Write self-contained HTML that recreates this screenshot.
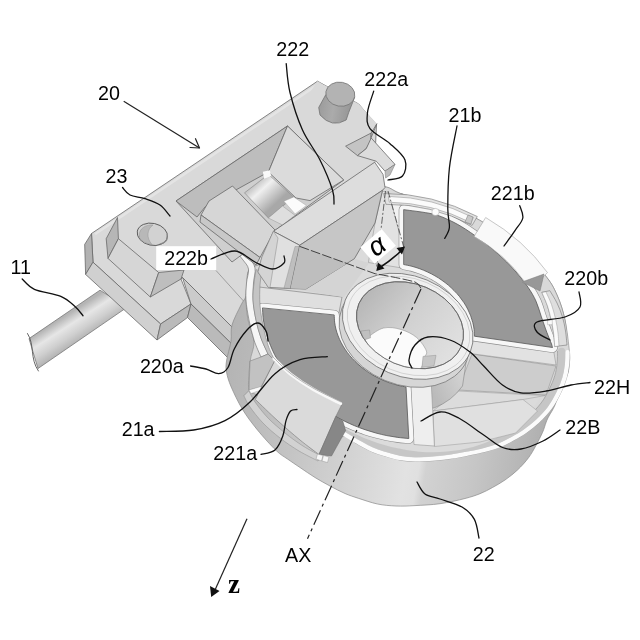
<!DOCTYPE html>
<html><head><meta charset="utf-8"><style>
html,body{margin:0;padding:0;background:#fff;}
svg{display:block;font-family:"Liberation Sans",sans-serif;filter:grayscale(1);}
</style></head><body>
<svg width="640" height="640" viewBox="0 0 640 640">
<defs>

<linearGradient id="gside" gradientUnits="userSpaceOnUse" x1="225" y1="370" x2="575" y2="430">
 <stop offset="0" stop-color="#b4b4b4"/><stop offset="0.06" stop-color="#b8b8b8"/><stop offset="0.22" stop-color="#c4c4c4"/><stop offset="0.40" stop-color="#d4d4d4"/><stop offset="0.55" stop-color="#e2e2e2"/><stop offset="0.585" stop-color="#e0e0e0"/><stop offset="0.605" stop-color="#d2d2d2"/><stop offset="0.74" stop-color="#c6c6c6"/><stop offset="0.87" stop-color="#b6b6b6"/><stop offset="0.96" stop-color="#a9a9a9"/>
</linearGradient>
<linearGradient id="grod" gradientUnits="userSpaceOnUse" x1="62" y1="318" x2="80" y2="346">
 <stop offset="0" stop-color="#b4b4b4"/><stop offset="0.3" stop-color="#e6e6e6"/><stop offset="0.6" stop-color="#cfcfcf"/><stop offset="1" stop-color="#a6a6a6"/>
</linearGradient>
<linearGradient id="grod2" gradientUnits="userSpaceOnUse" x1="262" y1="172" x2="284" y2="196">
 <stop offset="0" stop-color="#b0b0b0"/><stop offset="0.4" stop-color="#f0f0f0"/><stop offset="1" stop-color="#a8a8a8"/>
</linearGradient>
<linearGradient id="ghub" gradientUnits="userSpaceOnUse" x1="352" y1="310" x2="465" y2="345">
 <stop offset="0" stop-color="#b4b4b4"/><stop offset="0.45" stop-color="#d0d0d0"/><stop offset="1" stop-color="#e2e2e2"/>
</linearGradient>
<linearGradient id="gpin" gradientUnits="userSpaceOnUse" x1="319" y1="108" x2="350" y2="114">
 <stop offset="0" stop-color="#9c9c9c"/><stop offset="0.45" stop-color="#ababab"/><stop offset="1" stop-color="#969696"/>
</linearGradient>
<linearGradient id="ghubw" gradientUnits="userSpaceOnUse" x1="431" y1="390" x2="467" y2="372">
 <stop offset="0" stop-color="#bababa"/><stop offset="1" stop-color="#d6d6d6"/>
</linearGradient>

</defs>
<rect width="640" height="640" fill="#fff"/>
<polygon points="29.0,338.6 100.0,290.2 127.0,307.3 38.0,368.5" fill="url(#grod)" stroke="#777" stroke-width="0.8" stroke-linejoin="round" />
<path d="M27.5,333.5 C35,345 29.5,358 38.4,371" fill="none" stroke="#555" stroke-width="0.9" stroke-linejoin="round" stroke-linecap="round" />
<polygon points="91.5,233.5 317.5,81.2 358.7,104.0 376.5,124.7 374.7,162.2 300.0,262.0 246.0,341.0 182.5,277.5 181.0,279.0 191.0,304.0 160.6,324.0 93.0,262.2" fill="#d9d9d9" stroke="#686868" stroke-width="0.8" stroke-linejoin="round" />
<path d="M96,233.5 L318,84.5" fill="none" stroke="#e4e4e4" stroke-width="2.5" stroke-linejoin="round" stroke-linecap="round" />
<polygon points="84.7,244.4 91.5,233.5 93.0,262.2 85.6,274.4" fill="#b2b2b2" stroke="#686868" stroke-width="0.8" stroke-linejoin="round" />
<polygon points="93.0,262.2 160.6,324.0 157.0,340.0 85.6,274.4" fill="#d0d0d0" stroke="#686868" stroke-width="0.8" stroke-linejoin="round" />
<polygon points="160.6,324.0 191.0,304.0 187.5,317.5 157.0,340.0" fill="#bababa" stroke="#686868" stroke-width="0.8" stroke-linejoin="round" />
<polygon points="106.2,238.7 117.5,217.5 118.4,238.7 108.0,258.4" fill="#b6b6b6" stroke="#686868" stroke-width="0.8" stroke-linejoin="round" />
<polygon points="118.4,238.7 108.0,258.4 150.3,297.0 158.7,272.5" fill="#d6d6d6" stroke="#686868" stroke-width="0.8" stroke-linejoin="round" />
<polygon points="158.7,272.5 184.0,270.0 181.0,279.0 150.3,297.0" fill="#bebebe" stroke="#686868" stroke-width="0.8" stroke-linejoin="round" />
<ellipse cx="152.3" cy="234.3" rx="15.3" ry="11" transform="rotate(12 152.3 234.3)" fill="#d2d2d2" stroke="#5a5a5a" stroke-width="0.9"/>
<path d="M139,236 C139,228 146,224.5 153,225 C147,229 146,238 152,244.5 C145,243.5 140,241 139,236 Z" fill="#b8b8b8" stroke="#888" stroke-width="0.4" stroke-linejoin="round" stroke-linecap="round" />
<path d="M160,244 C165,243 167.5,240 167,237" fill="none" stroke="#888" stroke-width="1.2" stroke-linejoin="round" stroke-linecap="round" />
<line x1="216.0" y1="270.5" x2="248.0" y2="306.0" stroke="#777" stroke-width="0.6" />
<polygon points="182.5,277.5 246.0,341.0 240.0,352.0 191.0,304.0" fill="#cbcbcb" stroke="#686868" stroke-width="0.8" stroke-linejoin="round" />
<polygon points="191.0,304.0 240.0,352.0 228.0,358.0 187.5,317.5" fill="#bababa" stroke="#686868" stroke-width="0.8" stroke-linejoin="round" />
<path d="M402.0,194.0 C411.0,196.7 428.7,199.5 440.0,203.0 C451.3,206.5 458.3,208.8 470.0,215.0 C481.7,221.2 497.7,230.2 510.0,240.0 C522.3,249.8 536.2,264.8 544.0,274.0 C551.8,283.2 553.5,287.3 557.0,295.0 C560.5,302.7 563.2,311.0 565.0,320.0 C566.8,329.0 567.3,341.2 568.0,349.0 C568.7,356.8 569.3,362.2 569.0,367.0 C568.7,371.8 567.3,374.6 566.0,378.0 C564.7,381.4 562.8,383.0 561.0,387.5 C559.2,392.0 557.0,400.2 555.0,405.0 C553.0,409.8 550.5,413.2 549.0,416.0 C547.5,418.8 547.3,419.2 546.2,422.0 C545.1,424.8 544.2,428.7 542.5,432.5 C540.8,436.3 538.5,440.8 536.2,445.0 C533.9,449.2 531.8,453.3 528.7,457.5 C525.6,461.7 521.5,466.2 517.5,470.0 C513.5,473.8 509.2,477.1 505.0,480.0 C500.8,482.9 496.7,485.2 492.5,487.5 C488.3,489.8 484.6,491.9 480.0,493.7 C475.4,495.5 471.7,496.8 465.0,498.5 C458.3,500.2 448.3,502.5 440.0,503.7 C431.7,504.9 422.3,505.2 415.0,505.6 C407.7,506.0 402.2,506.3 396.0,506.0 C389.8,505.7 383.7,505.3 377.5,504.0 C371.3,502.7 364.1,500.1 358.7,498.4 C353.3,496.6 349.8,495.6 345.0,493.5 C340.2,491.4 335.0,488.7 330.0,486.0 C325.0,483.3 320.0,480.6 315.0,477.5 C310.0,474.4 304.6,470.6 300.0,467.5 C295.4,464.4 291.5,461.8 287.5,459.0 C283.5,456.2 281.2,455.4 276.2,450.6 C271.2,445.8 263.1,436.9 257.5,430.0 C251.9,423.1 246.9,416.6 242.5,409.4 C238.1,402.2 233.9,393.2 231.2,387.0 C228.5,380.8 227.3,376.3 226.5,372.0 C225.7,367.7 225.8,366.2 226.5,361.0 C227.2,355.8 230.1,347.0 231.0,341.0 C231.9,335.0 230.3,331.0 232.0,325.0 C233.7,319.0 238.7,309.8 241.0,305.0 C243.3,300.2 245.0,299.7 246.0,296.0 C247.0,292.3 246.3,287.5 247.0,283.0 C247.7,278.5 246.2,272.8 250.0,269.0 C253.8,265.2 263.0,264.8 270.0,260.0 C277.0,255.2 282.0,247.7 292.0,240.0 C302.0,232.3 317.3,222.7 330.0,214.0 C342.7,205.3 358.7,192.5 368.0,188.0 C377.3,183.5 380.3,186.0 386.0,187.0 C391.7,188.0 393.0,191.3 402.0,194.0 Z" fill="url(#gside)" stroke="#8a8a8a" stroke-width="0.7" stroke-linejoin="round" stroke-linecap="round" />
<path d="M249.0,391.0 C250.0,392.8 251.8,397.5 255.0,402.0 C258.2,406.5 263.0,412.8 268.0,418.0 C273.0,423.2 279.2,428.3 285.0,433.0 C290.8,437.7 297.0,442.2 303.0,446.0 C309.0,449.8 318.0,454.3 321.0,456.0 L318,461 L318.0,461.0 C314.8,459.3 305.3,454.8 299.0,451.0 C292.7,447.2 286.0,442.7 280.0,438.0 C274.0,433.3 268.0,428.2 263.0,423.0 C258.0,417.8 253.2,411.5 250.0,407.0 C246.8,402.5 245.0,397.8 244.0,396.0 Z" fill="#d2d2d2" stroke="#8a8a8a" stroke-width="0.5" stroke-linejoin="round" stroke-linecap="round" />
<path d="M402.0,194.0 C411.0,196.7 428.7,199.5 440.0,203.0 C451.3,206.5 458.3,208.8 470.0,215.0 C481.7,221.2 497.7,230.2 510.0,240.0 C522.3,249.8 536.2,264.8 544.0,274.0 C551.8,283.2 553.5,287.3 557.0,295.0 C560.5,302.7 562.9,310.5 565.0,320.0 C567.1,329.5 568.8,344.6 569.5,352.2 C570.2,359.8 569.5,360.9 569.0,365.3 C568.5,369.7 567.8,373.9 566.4,378.5 C565.0,383.1 563.0,388.2 560.6,393.2 C558.2,398.2 555.4,403.5 551.8,408.4 C548.2,413.2 543.4,418.3 539.2,422.3 C535.0,426.3 530.8,429.5 526.6,432.5 C522.4,435.5 518.1,437.8 513.9,440.1 C509.7,442.4 506.1,444.6 501.3,446.5 C496.5,448.4 490.5,450.2 485.1,451.7 C479.7,453.2 474.3,454.2 468.9,455.3 C463.5,456.4 458.2,457.5 452.6,458.4 C447.0,459.3 441.6,460.0 435.4,460.5 C429.1,461.0 421.0,461.6 415.1,461.5 C409.2,461.4 404.9,460.9 399.8,460.0 C394.7,459.1 389.2,457.3 384.5,455.9 C379.8,454.5 376.1,453.5 371.3,451.4 C366.6,449.3 360.6,445.9 356.0,443.3 C351.4,440.8 349.8,434.6 343.8,436.1 C337.8,437.6 327.3,452.2 320.0,452.5 C312.7,452.8 306.7,443.4 300.0,438.0 C293.3,432.6 287.0,427.0 280.0,420.0 C273.0,413.0 263.2,401.0 258.0,396.0 C252.8,391.0 250.3,395.7 249.0,390.0 C247.7,384.3 249.2,370.0 250.0,362.0 C250.8,354.0 254.3,349.0 254.0,342.0 C253.7,335.0 249.3,327.0 248.0,320.0 C246.7,313.0 246.2,306.2 246.0,300.0 C245.8,293.8 246.3,288.2 247.0,283.0 C247.7,277.8 246.2,272.8 250.0,269.0 C253.8,265.2 263.0,264.8 270.0,260.0 C277.0,255.2 282.0,247.7 292.0,240.0 C302.0,232.3 317.3,222.7 330.0,214.0 C342.7,205.3 358.7,192.5 368.0,188.0 C377.3,183.5 380.3,186.0 386.0,187.0 C391.7,188.0 393.0,191.3 402.0,194.0 Z" fill="#d9d9d9" stroke="#888" stroke-width="0.6" stroke-linejoin="round" stroke-linecap="round" />
<path d="M567.5,352.0 C567.4,354.2 567.5,360.7 567.0,365.0 C566.5,369.3 565.9,373.4 564.5,378.0 C563.1,382.6 561.1,387.6 558.7,392.5 C556.3,397.4 553.5,402.7 550.0,407.5 C546.5,412.3 541.7,417.2 537.5,421.2 C533.3,425.1 529.2,428.3 525.0,431.2 C520.8,434.1 516.7,436.4 512.5,438.7 C508.3,441.0 504.8,443.1 500.0,445.0 C495.2,446.9 489.3,448.6 484.0,450.0 C478.7,451.4 473.3,452.4 468.0,453.5 C462.7,454.6 457.5,455.7 452.0,456.5 C446.5,457.3 441.2,458.0 435.0,458.5 C428.8,459.0 420.8,459.6 415.0,459.5 C409.2,459.4 405.0,458.9 400.0,458.0 C395.0,457.1 389.7,455.4 385.0,454.0 C380.3,452.6 376.7,451.6 372.0,449.5 C367.3,447.4 361.5,444.0 357.0,441.5 C352.5,439.0 347.0,435.7 345.0,434.5" fill="none" stroke="#fbfbfb" stroke-width="4.2" stroke-linejoin="round" stroke-linecap="round" />
<path d="M561.5,351.5 C561.4,353.6 561.6,359.8 561.1,364.0 C560.6,368.2 560.0,372.1 558.7,376.5 C557.4,380.9 555.5,385.8 553.1,390.5 C550.8,395.2 548.0,400.3 544.6,404.9 C541.2,409.5 536.5,414.1 532.5,417.9 C528.5,421.6 524.3,424.6 520.3,427.4 C516.2,430.2 512.2,432.3 508.2,434.5 C504.2,436.7 500.7,438.6 496.1,440.4 C491.5,442.1 485.8,443.7 480.7,445.0 C475.6,446.3 470.4,447.1 465.3,448.1 C460.2,449.1 455.3,450.1 450.1,450.8 C444.9,451.6 439.8,452.2 433.9,452.6 C428.0,453.1 420.4,453.6 414.8,453.5 C409.2,453.4 405.3,452.9 400.6,452.0 C395.9,451.1 390.8,449.6 386.4,448.2 C382.0,446.8 378.5,445.9 374.1,443.9 C369.7,441.9 364.2,438.6 359.9,436.2 C355.6,433.8 350.4,430.7 348.5,429.6" fill="none" stroke="#c6c6c6" stroke-width="7.5" stroke-linejoin="round" stroke-linecap="round" />
<path d="M557.5,351.2 C557.4,353.2 557.6,359.3 557.1,363.4 C556.6,367.5 556.1,371.3 554.8,375.6 C553.5,379.9 551.6,384.5 549.3,389.1 C547.0,393.7 544.4,398.7 541.0,403.1 C537.6,407.6 533.1,412.2 529.1,415.8 C525.1,419.4 521.2,422.2 517.2,424.9 C513.2,427.5 509.3,429.6 505.4,431.7 C501.5,433.8 498.1,435.6 493.6,437.3 C489.1,439.0 483.5,440.4 478.5,441.6 C473.5,442.8 468.6,443.6 463.6,444.5 C458.7,445.4 453.9,446.3 448.8,447.0 C443.7,447.7 438.8,448.3 433.1,448.7 C427.4,449.1 420.1,449.6 414.7,449.5 C409.3,449.4 405.6,449.0 401.0,448.1 C396.4,447.2 391.6,445.6 387.3,444.3 C383.0,443.0 379.6,442.0 375.4,440.1 C371.1,438.2 365.9,435.0 361.8,432.7 C357.7,430.4 352.6,427.4 350.8,426.3" fill="none" stroke="#8c8c8c" stroke-width="0.6" stroke-linejoin="round" stroke-linecap="round" />
<ellipse cx="409.0" cy="331.0" rx="147.0" ry="116.1" transform="rotate(22.77 409.0 331.0)" fill="#dbdbdb" stroke="none"/>
<polygon points="472.0,354.0 556.0,366.0 546.0,395.0 458.0,390.0" fill="#cdcdcd" stroke="#8a8a8a" stroke-width="0.5" stroke-linejoin="round" />
<polygon points="458.0,391.0 545.0,395.6 523.0,399.5 433.0,411.0" fill="#dcdcdc" stroke="#999" stroke-width="0.5" stroke-linejoin="round" />
<polygon points="433.0,411.0 523.0,399.5 537.5,411.0 515.6,433.0 480.0,442.0 434.4,446.5" fill="#e0e0e0" stroke="#999" stroke-width="0.5" stroke-linejoin="round" />
<path d="M431,372 L467,356 L462.5,386 Q452,401 434,408 L431,408 Z" fill="url(#ghubw)" stroke="#777" stroke-width="0.5" stroke-linejoin="round" stroke-linecap="round" />
<polygon points="382.5,191.0 389.0,193.0 403.0,247.0 402.0,268.0 368.4,262.5 375.0,223.0" fill="#e2e2e2" stroke="#888" stroke-width="0.5" stroke-linejoin="round" />
<polygon points="389.0,193.0 395.0,196.0 404.0,212.0 403.0,247.0" fill="#f2f2f2" stroke="#999" stroke-width="0.4" stroke-linejoin="round" />
<polygon points="470.0,334.0 553.0,347.0 556.0,365.0 470.0,353.5" fill="#e2e2e2" stroke="#888" stroke-width="0.5" stroke-linejoin="round" />
<polygon points="409.4,378.0 431.0,378.0 434.4,446.0 414.0,444.5" fill="#eeeeee" stroke="#888" stroke-width="0.5" stroke-linejoin="round" />
<polygon points="255.0,286.5 342.0,297.0 338.0,318.0 258.0,312.0" fill="#dfdfdf" stroke="#777" stroke-width="0.6" stroke-linejoin="round" />
<polygon points="300.0,290.0 354.4,258.7 369.0,263.0 344.0,297.2" fill="#d4d4d4" stroke="none" stroke-width="0.8" stroke-linejoin="round" />
<path d="M404.0,209.7 C408.7,210.4 424.5,212.1 432.2,213.9 C439.9,215.7 444.4,217.9 450.0,220.5 C455.6,223.1 460.1,225.7 465.9,229.4 C471.7,233.2 478.8,238.2 485.0,243.0 C491.2,247.8 497.8,253.7 503.0,258.5 C508.2,263.3 511.8,267.2 516.0,272.0 C520.2,276.8 524.7,282.3 528.0,287.2 C531.3,292.1 533.8,296.2 536.0,301.2 C538.2,306.1 539.6,311.7 541.4,316.9 C543.2,322.1 545.2,328.0 546.9,332.5 C548.6,337.0 550.6,341.5 551.5,344.0 C552.4,346.5 552.3,346.9 552.5,347.5 L474.4,336.2 L474.4,336.2 C474.4,335.1 474.3,331.7 474.1,329.4 C473.8,327.2 473.4,324.9 472.8,322.6 C472.2,320.3 471.5,318.0 470.7,315.8 C469.8,313.5 468.8,311.3 467.7,309.1 C466.6,306.9 465.3,304.7 463.9,302.6 C462.5,300.5 461.0,298.4 459.4,296.4 C457.7,294.4 456.0,292.4 454.1,290.6 C452.3,288.7 450.3,286.9 448.3,285.1 C446.2,283.4 444.0,281.7 441.8,280.2 C439.6,278.6 437.3,277.1 434.9,275.8 C432.5,274.4 430.0,273.1 427.5,272.0 C425.0,270.8 422.5,269.7 419.9,268.8 C417.3,267.9 414.7,267.0 412.0,266.3 C409.4,265.6 405.3,264.9 404.0,264.6 Z" fill="#f6f6f6" stroke="#8c8c8c" stroke-width="10.6" stroke-linejoin="round" stroke-linecap="round" />
<path d="M404.0,209.7 C408.7,210.4 424.5,212.1 432.2,213.9 C439.9,215.7 444.4,217.9 450.0,220.5 C455.6,223.1 460.1,225.7 465.9,229.4 C471.7,233.2 478.8,238.2 485.0,243.0 C491.2,247.8 497.8,253.7 503.0,258.5 C508.2,263.3 511.8,267.2 516.0,272.0 C520.2,276.8 524.7,282.3 528.0,287.2 C531.3,292.1 533.8,296.2 536.0,301.2 C538.2,306.1 539.6,311.7 541.4,316.9 C543.2,322.1 545.2,328.0 546.9,332.5 C548.6,337.0 550.6,341.5 551.5,344.0 C552.4,346.5 552.3,346.9 552.5,347.5 L474.4,336.2 L474.4,336.2 C474.4,335.1 474.3,331.7 474.1,329.4 C473.8,327.2 473.4,324.9 472.8,322.6 C472.2,320.3 471.5,318.0 470.7,315.8 C469.8,313.5 468.8,311.3 467.7,309.1 C466.6,306.9 465.3,304.7 463.9,302.6 C462.5,300.5 461.0,298.4 459.4,296.4 C457.7,294.4 456.0,292.4 454.1,290.6 C452.3,288.7 450.3,286.9 448.3,285.1 C446.2,283.4 444.0,281.7 441.8,280.2 C439.6,278.6 437.3,277.1 434.9,275.8 C432.5,274.4 430.0,273.1 427.5,272.0 C425.0,270.8 422.5,269.7 419.9,268.8 C417.3,267.9 414.7,267.0 412.0,266.3 C409.4,265.6 405.3,264.9 404.0,264.6 Z" fill="#f6f6f6" stroke="#f7f7f7" stroke-width="9.4" stroke-linejoin="round" stroke-linecap="round" />
<path d="M404.0,209.7 C408.7,210.4 424.5,212.1 432.2,213.9 C439.9,215.7 444.4,217.9 450.0,220.5 C455.6,223.1 460.1,225.7 465.9,229.4 C471.7,233.2 478.8,238.2 485.0,243.0 C491.2,247.8 497.8,253.7 503.0,258.5 C508.2,263.3 511.8,267.2 516.0,272.0 C520.2,276.8 524.7,282.3 528.0,287.2 C531.3,292.1 533.8,296.2 536.0,301.2 C538.2,306.1 539.6,311.7 541.4,316.9 C543.2,322.1 545.2,328.0 546.9,332.5 C548.6,337.0 550.6,341.5 551.5,344.0 C552.4,346.5 552.3,346.9 552.5,347.5 L474.4,336.2 L474.4,336.2 C474.4,335.1 474.3,331.7 474.1,329.4 C473.8,327.2 473.4,324.9 472.8,322.6 C472.2,320.3 471.5,318.0 470.7,315.8 C469.8,313.5 468.8,311.3 467.7,309.1 C466.6,306.9 465.3,304.7 463.9,302.6 C462.5,300.5 461.0,298.4 459.4,296.4 C457.7,294.4 456.0,292.4 454.1,290.6 C452.3,288.7 450.3,286.9 448.3,285.1 C446.2,283.4 444.0,281.7 441.8,280.2 C439.6,278.6 437.3,277.1 434.9,275.8 C432.5,274.4 430.0,273.1 427.5,272.0 C425.0,270.8 422.5,269.7 419.9,268.8 C417.3,267.9 414.7,267.0 412.0,266.3 C409.4,265.6 405.3,264.9 404.0,264.6 Z" fill="#989898" stroke="#555" stroke-width="0.8" stroke-linejoin="round" stroke-linecap="round" />
<path d="M262.5,308.3 C262.6,309.8 262.8,314.5 263.1,317.6 C263.5,320.7 264.0,323.8 264.7,326.9 C265.3,330.0 266.2,333.2 267.1,336.3 C268.1,339.4 269.2,342.4 270.5,345.5 C271.7,348.6 273.1,351.6 274.6,354.6 C276.2,357.6 277.8,360.6 279.6,363.6 C281.4,366.5 283.4,369.4 285.4,372.2 C287.5,375.1 289.7,377.9 292.0,380.6 C294.3,383.3 296.7,386.0 299.2,388.5 C301.7,391.1 304.4,393.6 307.1,396.1 C309.9,398.5 312.7,400.9 315.6,403.1 C318.6,405.4 321.6,407.6 324.7,409.7 C327.8,411.8 331.0,413.8 334.2,415.6 C337.5,417.5 340.8,419.3 344.2,421.0 C347.6,422.7 351.0,424.2 354.5,425.7 C358.0,427.1 361.5,428.5 365.1,429.7 C368.7,430.9 372.3,432.0 375.9,433.0 C379.5,434.0 383.2,434.8 386.8,435.6 C390.5,436.3 394.2,436.9 397.8,437.4 C401.5,437.9 407.0,438.3 408.8,438.5 L406.0,386.9 L406.0,386.9 C404.6,386.7 400.6,386.0 397.9,385.3 C395.2,384.6 392.5,383.8 389.9,382.9 C387.3,382.0 384.7,381.0 382.1,379.8 C379.6,378.7 377.1,377.4 374.6,376.1 C372.2,374.7 369.8,373.3 367.6,371.7 C365.3,370.2 363.1,368.5 361.0,366.8 C358.9,365.1 356.9,363.2 355.0,361.3 C353.1,359.4 351.3,357.5 349.6,355.4 C348.0,353.4 346.4,351.3 345.0,349.2 C343.6,347.1 342.3,344.9 341.2,342.7 C340.0,340.4 339.0,338.2 338.1,335.9 C337.2,333.6 336.5,331.3 335.9,329.0 C335.4,326.7 334.9,324.4 334.6,322.1 C334.4,319.8 334.3,316.4 334.2,315.3 Z" fill="#f6f6f6" stroke="#8c8c8c" stroke-width="10.6" stroke-linejoin="round" stroke-linecap="round" />
<path d="M262.5,308.3 C262.6,309.8 262.8,314.5 263.1,317.6 C263.5,320.7 264.0,323.8 264.7,326.9 C265.3,330.0 266.2,333.2 267.1,336.3 C268.1,339.4 269.2,342.4 270.5,345.5 C271.7,348.6 273.1,351.6 274.6,354.6 C276.2,357.6 277.8,360.6 279.6,363.6 C281.4,366.5 283.4,369.4 285.4,372.2 C287.5,375.1 289.7,377.9 292.0,380.6 C294.3,383.3 296.7,386.0 299.2,388.5 C301.7,391.1 304.4,393.6 307.1,396.1 C309.9,398.5 312.7,400.9 315.6,403.1 C318.6,405.4 321.6,407.6 324.7,409.7 C327.8,411.8 331.0,413.8 334.2,415.6 C337.5,417.5 340.8,419.3 344.2,421.0 C347.6,422.7 351.0,424.2 354.5,425.7 C358.0,427.1 361.5,428.5 365.1,429.7 C368.7,430.9 372.3,432.0 375.9,433.0 C379.5,434.0 383.2,434.8 386.8,435.6 C390.5,436.3 394.2,436.9 397.8,437.4 C401.5,437.9 407.0,438.3 408.8,438.5 L406.0,386.9 L406.0,386.9 C404.6,386.7 400.6,386.0 397.9,385.3 C395.2,384.6 392.5,383.8 389.9,382.9 C387.3,382.0 384.7,381.0 382.1,379.8 C379.6,378.7 377.1,377.4 374.6,376.1 C372.2,374.7 369.8,373.3 367.6,371.7 C365.3,370.2 363.1,368.5 361.0,366.8 C358.9,365.1 356.9,363.2 355.0,361.3 C353.1,359.4 351.3,357.5 349.6,355.4 C348.0,353.4 346.4,351.3 345.0,349.2 C343.6,347.1 342.3,344.9 341.2,342.7 C340.0,340.4 339.0,338.2 338.1,335.9 C337.2,333.6 336.5,331.3 335.9,329.0 C335.4,326.7 334.9,324.4 334.6,322.1 C334.4,319.8 334.3,316.4 334.2,315.3 Z" fill="#f6f6f6" stroke="#f7f7f7" stroke-width="9.4" stroke-linejoin="round" stroke-linecap="round" />
<path d="M262.5,308.3 C262.6,309.8 262.8,314.5 263.1,317.6 C263.5,320.7 264.0,323.8 264.7,326.9 C265.3,330.0 266.2,333.2 267.1,336.3 C268.1,339.4 269.2,342.4 270.5,345.5 C271.7,348.6 273.1,351.6 274.6,354.6 C276.2,357.6 277.8,360.6 279.6,363.6 C281.4,366.5 283.4,369.4 285.4,372.2 C287.5,375.1 289.7,377.9 292.0,380.6 C294.3,383.3 296.7,386.0 299.2,388.5 C301.7,391.1 304.4,393.6 307.1,396.1 C309.9,398.5 312.7,400.9 315.6,403.1 C318.6,405.4 321.6,407.6 324.7,409.7 C327.8,411.8 331.0,413.8 334.2,415.6 C337.5,417.5 340.8,419.3 344.2,421.0 C347.6,422.7 351.0,424.2 354.5,425.7 C358.0,427.1 361.5,428.5 365.1,429.7 C368.7,430.9 372.3,432.0 375.9,433.0 C379.5,434.0 383.2,434.8 386.8,435.6 C390.5,436.3 394.2,436.9 397.8,437.4 C401.5,437.9 407.0,438.3 408.8,438.5 L406.0,386.9 L406.0,386.9 C404.6,386.7 400.6,386.0 397.9,385.3 C395.2,384.6 392.5,383.8 389.9,382.9 C387.3,382.0 384.7,381.0 382.1,379.8 C379.6,378.7 377.1,377.4 374.6,376.1 C372.2,374.7 369.8,373.3 367.6,371.7 C365.3,370.2 363.1,368.5 361.0,366.8 C358.9,365.1 356.9,363.2 355.0,361.3 C353.1,359.4 351.3,357.5 349.6,355.4 C348.0,353.4 346.4,351.3 345.0,349.2 C343.6,347.1 342.3,344.9 341.2,342.7 C340.0,340.4 339.0,338.2 338.1,335.9 C337.2,333.6 336.5,331.3 335.9,329.0 C335.4,326.7 334.9,324.4 334.6,322.1 C334.4,319.8 334.3,316.4 334.2,315.3 Z" fill="#989898" stroke="#555" stroke-width="0.8" stroke-linejoin="round" stroke-linecap="round" />
<path d="M384.1,193.5 A163.0,128.8 22.77 0 1 477.3,216.5 L472.1,225.4 A150.0,118.5 22.77 0 0 386.3,204.3 Z" fill="#e2e2e2" stroke="#777" stroke-width="0.6" stroke-linejoin="round" stroke-linecap="round" />
<path d="M388.7,196.4 A159.5,126.0 22.77 0 1 473.4,217.6 L470.7,222.5 A152.5,120.5 22.77 0 0 389.7,202.2 Z" fill="#fbfbfb" stroke="#999" stroke-width="0.6" stroke-linejoin="round" stroke-linecap="round" />
<circle cx="435.5" cy="212" r="3.6" fill="#fdfdfd" stroke="#aaa" stroke-width="0.5"/>
<polygon points="468.0,215.0 473.0,217.0 471.0,224.0 465.0,222.0" fill="#c8c8c8" stroke="#777" stroke-width="0.5" stroke-linejoin="round" />
<path d="M550.0,291.0 C551.2,293.0 554.9,298.7 557.0,303.0 C559.1,307.3 561.1,312.3 562.5,317.0 C563.9,321.7 564.8,326.3 565.5,331.0 C566.2,335.7 566.8,342.7 567.0,345.0 L554.7,346.5 L554.7,346.5 C554.5,344.4 554.2,338.2 553.7,334.0 C553.2,329.8 552.5,326.2 551.5,321.5 C550.5,316.8 549.1,310.8 547.5,306.0 C545.9,301.2 542.9,294.9 542.0,292.7 Z" fill="#dedede" stroke="#777" stroke-width="0.6" stroke-linejoin="round" stroke-linecap="round" />
<path d="M546.0,292.0 C546.9,294.1 549.9,299.9 551.5,304.5 C553.1,309.1 554.6,314.8 555.7,319.5 C556.8,324.2 557.5,328.6 558.0,333.0 C558.5,337.4 558.8,343.8 559.0,346.0 L554.7,346.5 L554.7,346.5 C554.5,344.4 554.2,338.2 553.7,334.0 C553.2,329.8 552.5,326.2 551.5,321.5 C550.5,316.8 549.1,310.8 547.5,306.0 C545.9,301.2 542.9,294.9 542.0,292.7 Z" fill="#fafafa" stroke="#999" stroke-width="0.5" stroke-linejoin="round" stroke-linecap="round" />
<polygon points="547.6,320.0 552.3,320.0 552.3,324.7 547.6,324.7" fill="#fafafa" stroke="#999" stroke-width="0.4" stroke-linejoin="round" />
<path d="M237.0,253.0 C238.0,254.2 241.1,257.3 243.0,260.0 C244.9,262.7 247.9,265.2 248.5,269.0 C249.1,272.8 246.9,277.8 246.5,283.0 C246.1,288.2 245.6,293.8 246.0,300.0 C246.4,306.2 247.7,313.3 249.0,320.0 C250.3,326.7 252.0,333.8 254.0,340.0 C256.0,346.2 259.8,354.2 261.0,357.0 L268,354 L268.0,354.0 C266.8,351.3 263.0,343.7 261.0,338.0 C259.0,332.3 257.3,326.3 256.0,320.0 C254.7,313.7 253.4,306.2 253.0,300.0 C252.6,293.8 253.2,288.3 253.5,283.0 C253.8,277.7 255.8,272.3 255.0,268.0 C254.2,263.7 251.0,260.0 249.0,257.0 C247.0,254.0 244.0,251.2 243.0,250.0 Z" fill="#f6f6f6" stroke="#666" stroke-width="0.6" stroke-linejoin="round" stroke-linecap="round" />
<path d="M256.0,270.0 C255.7,272.2 254.5,278.0 254.0,283.0 C253.5,288.0 252.7,293.8 253.0,300.0 C253.3,306.2 254.7,313.7 256.0,320.0 C257.3,326.3 259.0,332.3 261.0,338.0 C263.0,343.7 266.8,351.3 268.0,354.0 L275,361 L275.0,361.0 C273.8,358.3 270.0,351.0 268.0,345.0 C266.0,339.0 264.3,331.7 263.0,325.0 C261.7,318.3 260.5,311.7 260.0,305.0 C259.5,298.3 259.7,290.5 260.0,285.0 C260.3,279.5 261.7,274.2 262.0,272.0 Z" fill="#c4c4c4" stroke="#777" stroke-width="0.5" stroke-linejoin="round" stroke-linecap="round" />
<polygon points="250.0,361.0 261.0,357.0 268.0,354.0 275.0,361.0 261.0,387.0 249.0,390.0" fill="#c2c2c2" stroke="#777" stroke-width="0.5" stroke-linejoin="round" />
<polygon points="249.0,390.0 261.0,386.5 262.5,389.5 251.0,393.5" fill="#fafafa" stroke="#999" stroke-width="0.4" stroke-linejoin="round" />
<path d="M486.0,217.7 A175,138 22.77 0 1 547.5,272.6 L534,286 L522,282 L524.4,281.3 A139.0,109.8 22.77 0 0 474.4,236.6 Z" fill="#f9f9f9" stroke="#b0b0b0" stroke-width="0.7" stroke-linejoin="round" stroke-linecap="round" />
<polygon points="522.0,282.0 544.0,274.0 540.0,291.0" fill="#989898" stroke="#777" stroke-width="0.5" stroke-linejoin="round" />
<path d="M275.3,360.3 C278.1,362.9 285.4,370.9 292.0,376.0 C298.6,381.1 306.5,386.1 314.7,391.0 C322.9,395.9 336.9,402.9 341.4,405.3 L335.8,416.5 L319,454.5 L319.0,454.5 C315.8,452.1 306.8,445.6 300.0,440.0 C293.2,434.4 285.4,427.7 278.0,421.0 C270.6,414.3 259.3,403.2 255.6,399.7 Z" fill="#dadada" stroke="#777" stroke-width="0.6" stroke-linejoin="round" stroke-linecap="round" />
<path d="M274.0,358.5 C276.8,361.2 284.4,369.3 291.0,374.5 C297.6,379.7 305.2,384.7 313.5,389.5 C321.8,394.3 336.0,401.2 340.5,403.5" fill="none" stroke="#f8f8f8" stroke-width="3.4" stroke-linejoin="round" stroke-linecap="round" />
<path d="M273.0,357.0 C275.8,359.7 283.3,367.8 290.0,373.0 C296.7,378.2 304.5,383.2 313.0,388.0 C321.5,392.8 336.3,399.7 341.0,402.0" fill="none" stroke="#777" stroke-width="0.5" stroke-linejoin="round" stroke-linecap="round" />
<polygon points="335.8,416.5 342.8,421.0 345.6,430.6 331.5,456.0 319.0,454.5" fill="#878787" stroke="#666" stroke-width="0.5" stroke-linejoin="round" />
<polygon points="317.5,454.0 323.0,455.5 321.5,461.0 316.0,459.0" fill="#f6f6f6" stroke="#888" stroke-width="0.4" stroke-linejoin="round" />
<polygon points="323.5,455.5 329.0,457.0 327.5,462.5 322.0,461.0" fill="#f6f6f6" stroke="#888" stroke-width="0.4" stroke-linejoin="round" />
<ellipse cx="404.4" cy="334.3" rx="67.7" ry="50.1" transform="rotate(22.77 404.4 334.3)" fill="#d6d6d6" stroke="#666" stroke-width="0.6"/>
<ellipse cx="407.7" cy="326.3" rx="67.7" ry="50.1" transform="rotate(22.77 407.7 326.3)" fill="#f0f0f0" stroke="#666" stroke-width="0.7"/>
<ellipse cx="408.5" cy="325.9" rx="63.5" ry="47.0" transform="rotate(22.77 408.5 325.9)" fill="none" stroke="#bbb" stroke-width="0.5"/>
<clipPath id="hubclip"><ellipse cx="410" cy="325.2" rx="55.5" ry="41.1" transform="rotate(22.77 410 325.2)"/></clipPath>
<ellipse cx="410.0" cy="325.2" rx="55.5" ry="41.1" transform="rotate(22.77 410.0 325.2)" fill="url(#ghub)" stroke="#666" stroke-width="0.7"/>
<g clip-path="url(#hubclip)">
<path d="M366.0,342.0 C364.4,338.5 365.4,339.3 368.4,337.0 C371.3,334.7 378.3,329.2 383.7,328.0 C389.1,326.8 395.5,327.9 401.0,329.5 C406.5,331.1 412.4,333.9 416.6,337.5 C420.8,341.1 425.2,347.6 426.4,351.0 C427.6,354.4 424.9,355.2 424.0,358.0 C423.1,360.8 423.0,365.7 421.0,368.0 C419.0,370.3 416.5,372.0 412.0,372.0 C407.5,372.0 399.7,370.3 394.0,368.0 C388.3,365.7 382.7,362.3 378.0,358.0 C373.3,353.7 367.6,345.5 366.0,342.0 Z" fill="#fbfbfb" stroke="#888" stroke-width="0.5" stroke-linejoin="round" stroke-linecap="round" />
<polygon points="360.8,331.0 369.5,330.0 370.6,337.8 364.0,340.0" fill="#c0c0c0" stroke="#888" stroke-width="0.4" stroke-linejoin="round" />
<polygon points="423.0,356.4 436.0,355.3 434.0,366.0 422.0,367.3" fill="#c6c6c6" stroke="#888" stroke-width="0.4" stroke-linejoin="round" />
</g>
<ellipse cx="410.0" cy="325.2" rx="55.5" ry="41.1" transform="rotate(22.77 410.0 325.2)" fill="none" stroke="#666" stroke-width="0.7"/>
<polygon points="287.5,126.0 317.5,81.2 358.7,104.0 376.9,123.7 371.2,133.0 345.6,146.2 357.5,155.6 376.2,161.2 310.0,200.6 343.7,180.0" fill="#d9d9d9" stroke="none" stroke-width="0.8" stroke-linejoin="round" />
<polygon points="176.0,201.0 287.5,126.0 343.7,180.0 232.0,262.0" fill="#cfcfcf" stroke="#686868" stroke-width="0.8" stroke-linejoin="round" />
<polygon points="176.0,201.0 287.5,126.0 268.4,172.0 205.0,207.0 197.0,217.0" fill="#bdbdbd" stroke="#686868" stroke-width="0.8" stroke-linejoin="round" />
<polygon points="287.5,126.0 343.7,180.0 310.0,200.6 296.0,198.0 268.4,172.0" fill="#dbdbdb" stroke="#686868" stroke-width="0.8" stroke-linejoin="round" />
<polygon points="244.5,192.8 268.4,174.5 293.7,197.0 268.4,218.0" fill="url(#grod2)" stroke="#777" stroke-width="0.5" stroke-linejoin="round" />
<polygon points="262.8,171.7 269.8,170.3 271.2,176.0 264.2,178.7" fill="#fafafa" stroke="none" stroke-width="0.8" stroke-linejoin="round" />
<polygon points="283.9,201.2 293.7,197.0 306.4,205.5 295.1,213.9" fill="#fbfbfb" stroke="#999" stroke-width="0.4" stroke-linejoin="round" />
<polygon points="268.4,218.0 282.5,206.0 295.0,215.3 282.5,225.0" fill="#dedede" stroke="#888" stroke-width="0.4" stroke-linejoin="round" />
<polygon points="209.0,201.0 232.5,186.0 275.0,230.0 260.0,257.5 201.0,215.0" fill="#d6d6d6" stroke="#686868" stroke-width="0.8" stroke-linejoin="round" />
<polygon points="201.0,215.0 260.0,257.5 256.0,265.0 200.0,222.0" fill="#c8c8c8" stroke="#686868" stroke-width="0.8" stroke-linejoin="round" />
<polygon points="273.4,231.3 374.7,162.2 383.0,174.4 385.0,187.5 382.5,190.3 299.7,245.3" fill="#dddddd" stroke="#686868" stroke-width="0.8" stroke-linejoin="round" />
<polygon points="273.4,231.3 299.7,245.3 290.5,288.5 268.5,287.5 258.0,272.0 262.0,257.0" fill="#e0e0e0" stroke="#686868" stroke-width="0.8" stroke-linejoin="round" />
<polygon points="273.4,231.3 278.0,238.0 270.0,287.5 268.5,287.5 258.0,272.0 262.0,257.0" fill="#d4d4d4" stroke="#888" stroke-width="0.5" stroke-linejoin="round" />
<polygon points="295.0,246.5 301.5,246.5 290.5,288.5 284.0,288.0" fill="#bebebe" stroke="#888" stroke-width="0.4" stroke-linejoin="round" />
<polygon points="299.7,245.3 382.5,190.3 375.0,223.0 354.4,258.7 306.0,289.0 290.5,288.5" fill="#c6c6c6" stroke="#686868" stroke-width="0.8" stroke-linejoin="round" />
<polygon points="299.7,246.5 348.0,263.0 306.0,289.0 290.5,288.5" fill="#bebebe" stroke="none" stroke-width="0.8" stroke-linejoin="round" />
<polygon points="345.6,146.2 371.2,133.0 370.6,141.0 366.2,148.7 357.5,155.6" fill="#c4c4c4" stroke="#686868" stroke-width="0.8" stroke-linejoin="round" />
<polygon points="371.2,133.0 376.9,123.7 371.2,137.5" fill="#dadada" stroke="#686868" stroke-width="0.8" stroke-linejoin="round" />
<polygon points="357.5,155.6 366.2,148.7 371.2,138.0 395.0,164.4 385.0,171.2 376.2,161.2" fill="#dcdcdc" stroke="#686868" stroke-width="0.8" stroke-linejoin="round" />
<polygon points="385.0,171.2 395.0,164.4 390.0,175.0 385.6,178.0" fill="#bcbcbc" stroke="#777" stroke-width="0.5" stroke-linejoin="round" />
<path d="M325.6,95 L318.7,107.5 L320,115 Q332,128.5 346.2,120 L348.7,112.5 L354.6,97.5 Z" fill="url(#gpin)" stroke="#6a6a6a" stroke-width="0.7" stroke-linejoin="round" stroke-linecap="round" />
<ellipse cx="340.3" cy="94.2" rx="14.6" ry="12" transform="rotate(10 340.3 94.2)" fill="#b3b3b3" stroke="#777" stroke-width="0.8"/>
<line x1="385.5" y1="191.0" x2="376.5" y2="268.0" stroke="#444" stroke-width="0.8" stroke-dasharray="7 2 2 2"/>
<line x1="388.0" y1="191.0" x2="404.0" y2="248.0" stroke="#444" stroke-width="0.8" stroke-dasharray="7 2 2 2"/>
<g transform="translate(378.1,246.4) rotate(-40.5)"><rect x="-14" y="-11" width="28" height="22" fill="#fff"/></g>
<text opacity="0.99" transform="translate(375.5,257.5) rotate(-35)" font-size="27" font-style="italic" font-family="Liberation Sans">α</text>
<path d="M378.5,268.5 Q393,259 402.5,249.5" fill="none" stroke="#111" stroke-width="1.6" stroke-linejoin="round" stroke-linecap="round" />
<polygon points="376.3,271.0 378.0,262.5 384.5,268.5" fill="#111" stroke="none" stroke-width="0.8" stroke-linejoin="round" />
<polygon points="405.0,246.5 396.5,248.0 402.0,254.5" fill="#111" stroke="none" stroke-width="0.8" stroke-linejoin="round" />
<path d="M300,246.5 L375,273.7 Q405,279 415,282 Q420,284 421,289" fill="none" stroke="#333" stroke-width="0.9" stroke-linejoin="round" stroke-linecap="round" stroke-dasharray="9 3"/>
<line x1="421.0" y1="289.0" x2="307.5" y2="538.7" stroke="#222" stroke-width="1.2" stroke-dasharray="16 4 3 4"/>
<line x1="247.0" y1="518.7" x2="215.0" y2="590.0" stroke="#222" stroke-width="1.2" />
<polygon points="211.2,597.0 210.0,586.0 219.5,591.0" fill="#111" stroke="none" stroke-width="0.8" stroke-linejoin="round" />
<text x="228.0" y="592.5" font-size="27" opacity="0.99" font-family="Liberation Serif" font-weight="bold">z</text>
<line x1="123.7" y1="101.2" x2="199.5" y2="148.0" stroke="#222" stroke-width="1.2" />
<path d="M190,147.5 L199.5,148 L195.5,138.7" fill="none" stroke="#222" stroke-width="1.2" stroke-linejoin="round" stroke-linecap="round" />
<rect x="156.2" y="246.2" width="60" height="23.8" fill="#fff"/>
<text x="98.0" y="100.0" font-size="19.7" opacity="0.99" >20</text>
<text x="276.3" y="56.2" font-size="19.7" opacity="0.99" >222</text>
<text x="105.5" y="182.5" font-size="19.7" opacity="0.99" >23</text>
<text x="10.5" y="273.7" font-size="19.7" opacity="0.99" >11</text>
<text x="164.2" y="265.0" font-size="19.7" opacity="0.99" >222b</text>
<text x="364.3" y="86.3" font-size="19.7" opacity="0.99" >222a</text>
<text x="448.6" y="122.3" font-size="19.7" opacity="0.99" >21b</text>
<text x="490.8" y="200.0" font-size="19.7" opacity="0.99" >221b</text>
<text x="564.3" y="285.3" font-size="19.7" opacity="0.99" >220b</text>
<text x="139.9" y="372.8" font-size="19.7" opacity="0.99" >220a</text>
<text x="121.7" y="436.2" font-size="19.7" opacity="0.99" >21a</text>
<text x="213.3" y="459.7" font-size="19.7" opacity="0.99" >221a</text>
<text x="285.0" y="562.0" font-size="19.7" opacity="0.99" >AX</text>
<text x="594.0" y="394.4" font-size="19.7" opacity="0.99" >22H</text>
<text x="565.3" y="434.0" font-size="19.7" opacity="0.99" >22B</text>
<text x="472.7" y="561.0" font-size="19.7" opacity="0.99" >22</text>
<path d="M286.2,63.7 C286.8,68.5 287.3,81.5 290.0,92.5 C292.7,103.5 297.5,118.8 302.5,130.0 C307.5,141.2 315.0,150.0 320.0,160.0 C325.0,170.0 330.2,182.7 332.5,190.0 C334.8,197.3 333.8,201.7 334.0,204.0" fill="none" stroke="#111" stroke-width="1.3" stroke-linejoin="round" stroke-linecap="round" />
<path d="M122.5,187.5 C123.8,188.8 126.2,193.1 130.0,195.0 C133.8,196.9 140.0,197.0 145.0,198.7 C150.0,200.4 155.8,202.1 160.0,205.0 C164.2,207.9 168.3,214.2 170.0,216.0" fill="none" stroke="#111" stroke-width="1.3" stroke-linejoin="round" stroke-linecap="round" />
<path d="M22.2,279.0 C24.2,280.7 28.0,286.4 34.4,289.3 C40.8,292.2 54.0,293.5 60.8,296.4 C67.6,299.3 71.3,303.3 75.0,306.5 C78.7,309.7 81.7,314.2 83.0,315.7" fill="none" stroke="#111" stroke-width="1.3" stroke-linejoin="round" stroke-linecap="round" />
<path d="M211.0,259.0 C215.0,257.7 227.7,250.5 235.0,251.0 C242.3,251.5 248.8,259.0 255.0,262.0 C261.2,265.0 267.2,268.8 272.0,269.0 C276.8,269.2 282.0,265.2 284.0,263.0 C286.0,260.8 284.0,257.2 284.0,256.0" fill="none" stroke="#111" stroke-width="1.3" stroke-linejoin="round" stroke-linecap="round" />
<path d="M373.7,91.2 C372.7,94.8 368.1,106.2 367.5,112.5 C366.9,118.8 366.2,123.5 370.0,128.7 C373.8,133.9 384.2,138.5 390.0,143.7 C395.8,148.9 402.9,154.6 405.0,160.0 C407.1,165.4 405.3,172.7 402.5,176.0 C399.7,179.3 390.4,179.3 388.0,180.0" fill="none" stroke="#111" stroke-width="1.3" stroke-linejoin="round" stroke-linecap="round" />
<path d="M457.0,126.0 C455.7,133.0 450.9,154.2 449.4,168.0 C447.9,181.8 447.8,198.8 447.8,208.7 C447.8,218.6 449.9,222.6 449.4,227.5 C448.9,232.4 445.5,236.6 444.7,238.4" fill="none" stroke="#111" stroke-width="1.3" stroke-linejoin="round" stroke-linecap="round" />
<path d="M519.7,205.6 C520.2,207.7 523.6,213.8 522.8,218.0 C522.0,222.2 518.1,225.9 515.0,230.6 C511.9,235.3 505.8,243.4 504.0,246.0" fill="none" stroke="#111" stroke-width="1.3" stroke-linejoin="round" stroke-linecap="round" />
<path d="M579.0,292.0 C579.2,294.5 582.3,302.8 580.0,307.0 C577.7,311.2 572.2,314.5 565.0,317.0 C557.8,319.5 541.7,319.5 537.0,322.0 C532.3,324.5 534.8,329.0 537.0,332.0 C539.2,335.0 547.8,338.7 550.0,340.0" fill="none" stroke="#111" stroke-width="1.3" stroke-linejoin="round" stroke-linecap="round" />
<path d="M590.0,382.5 C586.8,382.9 578.3,383.6 571.0,385.0 C563.7,386.4 554.3,389.7 546.0,391.0 C537.7,392.3 528.2,393.8 521.0,392.8 C513.8,391.8 508.7,389.5 502.5,385.0 C496.3,380.5 489.1,371.5 483.7,366.0 C478.3,360.5 475.6,356.3 470.0,352.0 C464.4,347.7 457.0,342.5 450.0,340.0 C443.0,337.5 433.8,336.2 428.0,337.0 C422.2,337.8 418.2,341.2 415.0,345.0 C411.8,348.8 409.5,356.2 409.0,360.0 C408.5,363.8 411.5,366.7 412.0,368.0" fill="none" stroke="#111" stroke-width="1.3" stroke-linejoin="round" stroke-linecap="round" />
<path d="M560.0,430.0 C557.2,431.8 549.5,437.8 543.0,441.0 C536.5,444.2 527.8,447.9 521.0,449.0 C514.2,450.1 508.7,449.8 502.5,447.5 C496.3,445.2 491.0,439.9 483.7,435.0 C476.4,430.1 466.0,421.8 458.7,418.0 C451.4,414.2 446.3,411.5 440.0,412.0 C433.7,412.5 424.2,419.5 421.0,421.0" fill="none" stroke="#111" stroke-width="1.3" stroke-linejoin="round" stroke-linecap="round" />
<path d="M479.0,538.0 C478.2,534.9 477.2,524.6 474.4,519.4 C471.6,514.2 467.7,510.4 462.0,507.0 C456.3,503.6 446.2,501.2 440.0,499.0 C433.8,496.8 428.8,496.8 425.0,494.0 C421.2,491.2 418.3,484.0 417.0,482.0" fill="none" stroke="#111" stroke-width="1.3" stroke-linejoin="round" stroke-linecap="round" />
<path d="M190.6,366.0 C193.2,366.5 201.3,367.7 206.0,369.0 C210.7,370.3 215.0,373.9 218.7,373.7 C222.4,373.4 225.4,371.7 228.0,367.5 C230.6,363.3 231.2,354.9 234.4,348.7 C237.6,342.4 243.1,334.3 247.0,330.0 C250.9,325.7 254.8,322.8 258.0,323.0 C261.2,323.2 264.3,328.0 266.0,331.0 C267.7,334.0 267.7,339.3 268.0,341.0" fill="none" stroke="#111" stroke-width="1.3" stroke-linejoin="round" stroke-linecap="round" />
<path d="M159.4,431.5 C165.1,431.2 182.8,431.8 193.7,430.0 C204.6,428.2 215.6,425.3 225.0,420.6 C234.4,415.9 241.7,409.8 250.0,402.0 C258.3,394.2 266.7,380.8 275.0,373.7 C283.3,366.6 291.3,362.5 300.0,359.7 C308.7,356.9 322.8,357.1 327.3,356.6" fill="none" stroke="#111" stroke-width="1.3" stroke-linejoin="round" stroke-linecap="round" />
<path d="M261.0,454.4 C263.3,453.7 271.4,453.1 275.0,450.0 C278.6,446.9 281.0,440.9 282.8,436.0 C284.6,431.1 284.7,424.8 286.0,420.6 C287.3,416.4 288.8,412.9 290.6,411.0 C292.4,409.1 295.9,409.8 297.0,409.5" fill="none" stroke="#111" stroke-width="1.3" stroke-linejoin="round" stroke-linecap="round" />
</svg></body></html>
